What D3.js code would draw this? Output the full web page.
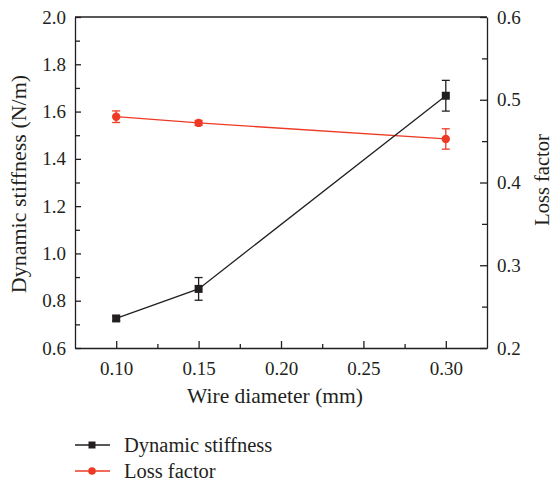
<!DOCTYPE html>
<html>
<meta charset="utf-8">
<head>
    <style>
        body { margin: 0; background: #fff; }
        .axis path, .axis line { fill: none; stroke: #231f20; stroke-width: 1.3px; }
        .title { font-size: 20.5px; font-family: "Liberation Serif", serif; fill: #231f20; }
    </style>
</head>
<body>
    <script src="https://d3js.org/d3.v7.min.js"></script>
    <script>
        // values
        const diameters = [0.10, 0.15, 0.30];
        const stiffness = [0.725, 0.850, 1.667];
        const stiffnessErr = [0.010, 0.048, 0.065];
        const lossFactor = [0.4795, 0.472, 0.4526];
        const lossErr = [0.007, 0.003, 0.0123];
        const xTicks = [0.10, 0.15, 0.20, 0.25, 0.30];
        const yLeftTicks = [0.6, 0.8, 1.0, 1.2, 1.4, 1.6, 1.8, 2.0];
        const yRightTicks = [0.2, 0.3, 0.4, 0.5, 0.6];

        const black = "#231f20", red = "#ee3a24";
        const serif = "'Liberation Serif', 'DejaVu Serif', serif";

        var W = 555, H = 481;
        var margin = { top: 17, right: 68, bottom: 133, left: 75 },
            width = W - margin.left - margin.right,
            height = H - margin.top - margin.bottom;

        var svg = d3.select("body").append("svg")
            .attr("width", W).attr("height", H)
            .append("g")
            .attr("transform", "translate(" + margin.left + "," + margin.top + ")");

        var x = d3.scaleLinear().domain([0.075, 0.325]).range([0, width]);
        var yL = d3.scaleLinear().domain([0.6, 2.0]).range([height, 0]);
        var yR = d3.scaleLinear().domain([0.2, 0.6]).range([height, 0]);

        // minor ticks
        var xMinor = [0.125, 0.175, 0.225, 0.275];
        var yLMinor = [0.7, 0.9, 1.1, 1.3, 1.5, 1.7, 1.9];
        var yRMinor = [0.25, 0.35, 0.45, 0.55];

        function styleAxis(g) {
            g.attr("font-family", serif).attr("font-size", 19);
            g.selectAll("text").attr("fill", black)
                .style("font-family", serif).style("font-size", "19px");
        }

        // frame top line
        svg.append("line").attr("x1", 0).attr("x2", width).attr("y1", 0).attr("y2", 0)
            .attr("stroke", black).attr("stroke-width", 1.3);

        // x axis
        svg.append("g").attr("class", "axis")
            .attr("transform", "translate(0," + height + ")")
            .call(d3.axisBottom(x).tickValues(xTicks).tickFormat(d3.format(".2f"))
                .tickSizeInner(-7).tickSizeOuter(0).tickPadding(10))
            .call(styleAxis)
            .call(function (g) { g.selectAll(".tick text").attr("dy", "0.9em"); });
        svg.append("g").attr("class", "axis")
            .attr("transform", "translate(0," + height + ")")
            .call(d3.axisBottom(x).tickValues(xMinor).tickFormat("").tickSizeInner(-4).tickSizeOuter(0))
            .select(".domain").remove();

        // left axis
        svg.append("g").attr("class", "axis")
            .call(d3.axisLeft(yL).tickValues(yLeftTicks).tickFormat(d3.format(".1f"))
                .tickSizeInner(-6).tickSizeOuter(0).tickPadding(9))
            .call(styleAxis);
        svg.append("g").attr("class", "axis")
            .call(d3.axisLeft(yL).tickValues(yLMinor).tickFormat("").tickSizeInner(-5).tickSizeOuter(0))
            .select(".domain").remove();

        // right axis
        svg.append("g").attr("class", "axis")
            .attr("transform", "translate(" + width + ",0)")
            .call(d3.axisRight(yR).tickValues(yRightTicks).tickFormat(d3.format(".1f"))
                .tickSizeInner(-7).tickSizeOuter(0).tickPadding(10))
            .call(styleAxis);
        svg.append("g").attr("class", "axis")
            .attr("transform", "translate(" + width + ",0)")
            .call(d3.axisRight(yR).tickValues(yRMinor).tickFormat("").tickSizeInner(-5).tickSizeOuter(0))
            .select(".domain").remove();

        // axis titles
        svg.append("text").attr("class", "title")
            .style("font-size", "22px")
            .attr("transform", "translate(-57," + (height / 2 + 1.5) + ") rotate(-90)")
            .attr("text-anchor", "middle").attr("dy", "0.35em")
            .text("Dynamic stiffness (N/m)");
        svg.append("text").attr("class", "title")
            .style("font-size", "20.5px")
            .attr("transform", "translate(" + (width + 62) + ",163) rotate(-90)")
            .attr("text-anchor", "middle")
            .text("Loss factor");
        svg.append("text").attr("class", "title")
            .style("font-size", "21.5px")
            .attr("x", width / 2 - 6).attr("y", height + 55)
            .attr("text-anchor", "middle")
            .text("Wire diameter (mm)");

        // series
        var stiffData = diameters.map(function (d, i) { return { x: d, y: stiffness[i], e: stiffnessErr[i] }; });
        var lossData = diameters.map(function (d, i) { return { x: d, y: lossFactor[i], e: lossErr[i] }; });

        function drawSeries(data, yScale, color, shape) {
            var g = svg.append("g");
            g.append("path").datum(data)
                .attr("fill", "none").attr("stroke", color).attr("stroke-width", 1.3)
                .attr("d", d3.line().x(function (d) { return x(d.x); }).y(function (d) { return yScale(d.y); }));
            var eb = g.selectAll(".eb").data(data).join("g").attr("stroke", color).attr("stroke-width", 1.3);
            eb.append("line")
                .attr("x1", function (d) { return x(d.x); }).attr("x2", function (d) { return x(d.x); })
                .attr("y1", function (d) { return yScale(d.y - d.e); }).attr("y2", function (d) { return yScale(d.y + d.e); });
            [-1, 1].forEach(function (s) {
                eb.append("line")
                    .attr("x1", function (d) { return x(d.x) - 4; }).attr("x2", function (d) { return x(d.x) + 4; })
                    .attr("y1", function (d) { return yScale(d.y + s * d.e); }).attr("y2", function (d) { return yScale(d.y + s * d.e); });
            });
            if (shape === "square") {
                g.selectAll(".m").data(data).join("rect")
                    .attr("x", function (d) { return x(d.x) - 4; }).attr("y", function (d) { return yScale(d.y) - 4; })
                    .attr("width", 8).attr("height", 8).attr("fill", color);
            } else {
                g.selectAll(".m").data(data).join("circle")
                    .attr("cx", function (d) { return x(d.x); }).attr("cy", function (d) { return yScale(d.y); })
                    .attr("r", 4.2).attr("fill", color);
            }
        }
        drawSeries(lossData, yR, red, "circle");
        drawSeries(stiffData, yL, black, "square");

        // legend
        var legend = d3.select("svg").append("g");
        var items = [
            { name: "Dynamic stiffness", color: black, shape: "square", y: 445 },
            { name: "Loss factor", color: red, shape: "circle", y: 471 }
        ];
        items.forEach(function (it) {
            legend.append("line").attr("x1", 75).attr("x2", 110).attr("y1", it.y).attr("y2", it.y)
                .attr("stroke", it.color).attr("stroke-width", 1.3);
            if (it.shape === "square") {
                legend.append("rect").attr("x", 88.5).attr("y", it.y - 3.5).attr("width", 7).attr("height", 7).attr("fill", it.color);
            } else {
                legend.append("circle").attr("cx", 92).attr("cy", it.y).attr("r", 3.8).attr("fill", it.color);
            }
            legend.append("text").attr("class", "title").attr("x", 124).attr("y", it.y).attr("dy", "0.33em")
                .text(it.name);
        });
    </script>
</body>
</html>
